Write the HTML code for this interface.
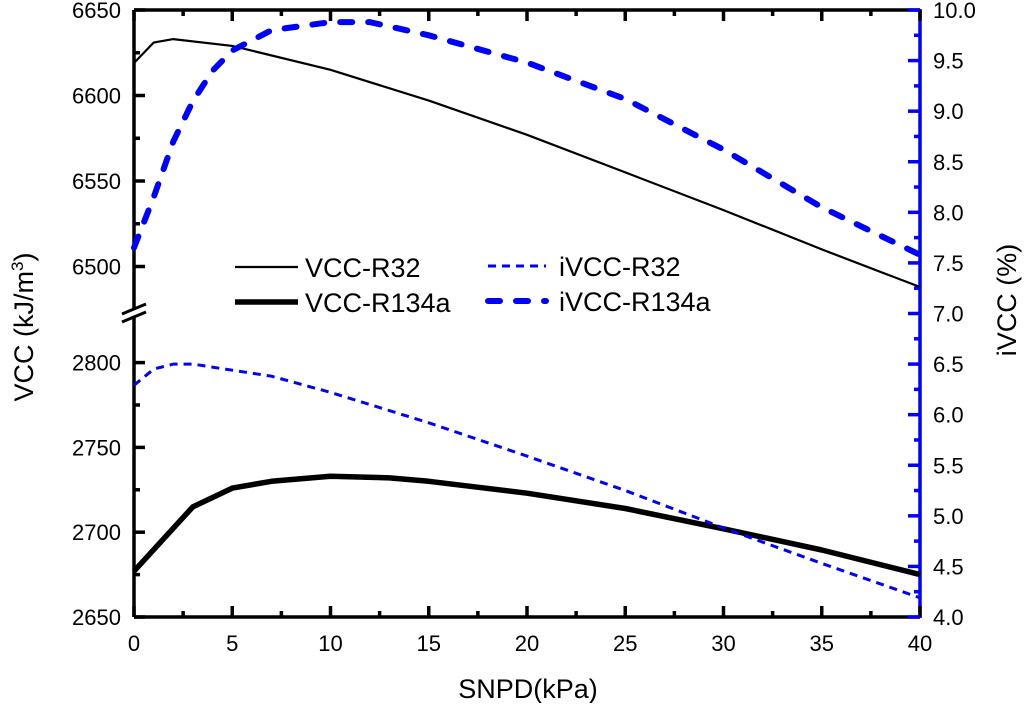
<!DOCTYPE html>
<html><head><meta charset="utf-8"><style>
body{margin:0;background:#fff;}
svg text{font-family:"Liberation Sans",Arial,sans-serif;}
</style></head><body>
<svg id="chart" width="1024" height="703" xmlns="http://www.w3.org/2000/svg">
<g id="axes"></g>
<g id="series"></g>
<g id="legend"></g>
</svg>
<script>
const xVals1 = [0,1,2,5,10,15,20,25,30,35,40];
const vccR32 = [6619,6631,6633,6629,6615,6597,6577,6555,6533,6510,6488];
const xVals2 = [0,3,5,7,10,13,15,20,25,30,35,40];
const vccR134a = [2677,2715,2726,2730,2733,2732,2730,2723,2714,2702,2689.5,2675];
const xVals3 = [0,1,2,3,5,7,10,12.5,15,20,25,30,35,40];
const ivccR32 = [6.29,6.45,6.5,6.5,6.44,6.38,6.22,6.07,5.92,5.59,5.25,4.88,4.53,4.19];
const xVals4 = [0,1,2,3,4,5,7,10,12,15,20,25,30,35,40];
const ivccR134a = [7.65,8.15,8.7,9.1,9.4,9.6,9.8,9.88,9.88,9.75,9.48,9.12,8.62,8.05,7.58];
const xTicks = [0,5,10,15,20,25,30,35,40];
const upperTicks = [6500,6550,6600,6650];
const lowerTicks = [2650,2700,2750,2800];
const rightTicks = ["4.0","4.5","5.0","5.5","6.0","6.5","7.0","7.5","8.0","8.5","9.0","9.5","10.0"];

const L=134,R=920,T=10,B=617;
const sx=v=>L+(v/40)*(R-L);
const yUp=v=>10+(6650-v)*85.5/50;
const yLo=v=>617-(v-2650)*84.8/50;
const yR=v=>T+(10-v)*(B-T)/6;
const NS="http://www.w3.org/2000/svg";
function mk(parent,tag,attrs,text){const e=document.createElementNS(NS,tag);for(const k in attrs)e.setAttribute(k,attrs[k]);if(text!==undefined)e.textContent=text;parent.appendChild(e);return e;}
const ax=document.getElementById('axes');
const se=document.getElementById('series');
const lg=document.getElementById('legend');

let e;
e=mk(ax,'line',{x1:L,y1:T,x2:R,y2:T,stroke:'#000','stroke-width':3.5});

e=mk(ax,'line',{x1:L,y1:B,x2:R,y2:B,stroke:'#000','stroke-width':3.5});

e=mk(ax,'line',{x1:L,y1:T,x2:L,y2:B,stroke:'#000','stroke-width':3.5});

e=mk(ax,'line',{x1:R,y1:T-1,x2:R,y2:B+1,stroke:'#00f','stroke-width':3.5});


for(let v=0;v<=40;v+=2.5){const x=sx(v);const len=(v%5===0)?11:6;
 mk(ax,'line',{x1:x,y1:B,x2:x,y2:B-len,stroke:'#000','stroke-width':3.5});
 mk(ax,'line',{x1:x,y1:T,x2:x,y2:T+len,stroke:'#000','stroke-width':3.5});}
xTicks.forEach(v=>{e=mk(ax,'text',{x:sx(v),y:651,'font-size':22,'text-anchor':'middle'},String(v));
 });
upperTicks.forEach(v=>{const y=yUp(v);mk(ax,'line',{x1:L,y1:y,x2:L+11,y2:y,stroke:'#000','stroke-width':3.5});
 e=mk(ax,'text',{x:121,y:y+8,'font-size':22,'text-anchor':'end'},String(v));
 });
[6625,6575,6525].forEach(v=>{const y=yUp(v);mk(ax,'line',{x1:L,y1:y,x2:L+6,y2:y,stroke:'#000','stroke-width':3.5});});
lowerTicks.forEach(v=>{const y=yLo(v);mk(ax,'line',{x1:L,y1:y,x2:L+11,y2:y,stroke:'#000','stroke-width':3.5});
 e=mk(ax,'text',{x:121,y:y+8,'font-size':22,'text-anchor':'end'},String(v));
 });
[2775,2725,2675].forEach(v=>{const y=yLo(v);mk(ax,'line',{x1:L,y1:y,x2:L+6,y2:y,stroke:'#000','stroke-width':3.5});});
e=mk(ax,'polygon',{points:`${L-12},${314} ${L+12},${304} ${L+12},${312} ${L-12},${322}`,fill:'#fff'});

mk(ax,'line',{x1:L-12,y1:314,x2:L+12,y2:304,stroke:'#000','stroke-width':3});
mk(ax,'line',{x1:L-12,y1:322,x2:L+12,y2:312,stroke:'#000','stroke-width':3});
for(let i=0;i<=24;i++){const v=4+i*0.25;const y=yR(v);const len=(i%2===0)?12:6;
 mk(ax,'line',{x1:R,y1:y,x2:R-len,y2:y,stroke:'#00f','stroke-width':3.5});}
rightTicks.forEach(t=>{e=mk(ax,'text',{x:933,y:yR(parseFloat(t))+8,'font-size':22},t);
 });
e=mk(ax,'text',{x:528,y:698,'font-size':27,'text-anchor':'middle'},'SNPD(kPa)');

e=mk(ax,'text',{x:0,y:0,'font-size':27,'text-anchor':'middle',transform:'translate(33,327) rotate(-90)'});

e.innerHTML='VCC (kJ/m<tspan dy="-10" font-size="17">3</tspan><tspan dy="10">)</tspan>';
e=mk(ax,'text',{x:0,y:0,'font-size':27,'text-anchor':'middle',transform:'translate(1016,300) rotate(-90)'},'iVCC (%)');


function path(xs,ys,fy){return xs.map((x,i)=>(i?'L':'M')+sx(x).toFixed(1)+','+fy(ys[i]).toFixed(1)).join(' ');}
e=mk(se,'path',{d:path(xVals1,vccR32,yUp),fill:'none',stroke:'#000','stroke-width':2.2});

e=mk(se,'path',{d:path(xVals2,vccR134a,yLo),fill:'none',stroke:'#000','stroke-width':5.5,'stroke-linejoin':'round'});

e=mk(se,'path',{d:path(xVals3,ivccR32,yR),fill:'none',stroke:'#00f','stroke-width':3,'stroke-dasharray':'8 6'});

e=mk(se,'path',{d:path(xVals4,ivccR134a,yR),fill:'none',stroke:'#00f','stroke-width':6,'stroke-dasharray':'12 16','stroke-linecap':'round'});


const items=[
 {x:235,y:267,t:'VCC-R32',c:'#000',w:2.2,d:'',n:'legend-vcc-r32'},
 {x:235,y:302,t:'VCC-R134a',c:'#000',w:5.5,d:'',n:'legend-vcc-r134a'},
 {x:488,y:266,t:'iVCC-R32',c:'#00f',w:3,d:'8 6',n:'legend-ivcc-r32'},
 {x:488,y:301,t:'iVCC-R134a',c:'#00f',w:6,d:'12 16',n:'legend-ivcc-r134a'}];
items.forEach(it=>{const g=mk(lg,'g',{});
 
 
 const a={x1:it.x,y1:it.y,x2:it.x+(it.c==='#000'?63:58),y2:it.y,stroke:it.c,'stroke-width':it.w};
 if(it.d){a['stroke-dasharray']=it.d;a['stroke-linecap']=it.w>4?'round':'butt';}
 mk(g,'line',a);
 mk(g,'text',{x:it.x+(it.c==='#000'?70:71),y:it.y+10,'font-size':27},it.t);});
</script>
</body></html>
